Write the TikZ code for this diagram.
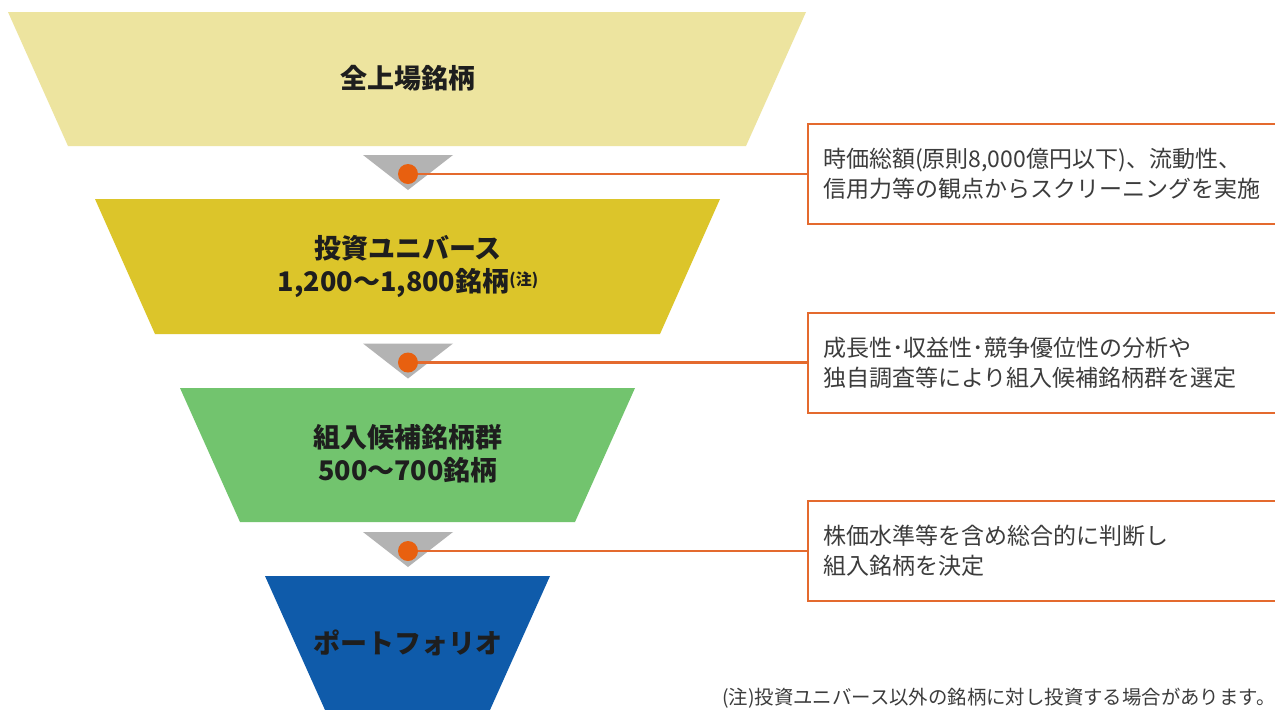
\documentclass[tikz,border=0pt]{standalone}
\usepackage{fontspec}
\usepackage{xcolor}
\setmainfont{Noto Sans CJK JP}
\usetikzlibrary{positioning}
\definecolor{TopYellow}{HTML}{EDE49F}
\definecolor{UnivYellow}{HTML}{DCC52A}
\definecolor{CandGreen}{HTML}{72C46E}
\definecolor{PortBlue}{HTML}{0F5BAA}
\definecolor{GateGray}{HTML}{B3B3B3}
\definecolor{DotOrange}{HTML}{E8600F}
\definecolor{LineOrange}{HTML}{E46A2E}
\definecolor{MemoText}{HTML}{3C3C3C}
\definecolor{FunnelText}{HTML}{1E1E1E}

\begin{document}
\begin{tikzpicture}[x=0.5pt, y=-0.5pt,
    stage/.style={font=\bfseries\fontsize{13.5}{16.5}\selectfont, text=FunnelText, align=center, inner sep=0pt},
    gate/.style={fill=GateGray, draw=none},
    dot/.style={circle, fill=DotOrange, minimum size=10pt, inner sep=0pt},
    memo/.style={rectangle, draw=LineOrange, line width=1pt, fill=white, anchor=west,
        minimum height=50pt, text width=231.5pt, inner xsep=7.5pt, align=left,
        text=MemoText, font=\fontsize{11.5}{15}\selectfont},
    link/.style={draw=LineOrange, line width=1.4pt}]

    \fill[white] (0,0) rectangle (1275,709);
    \clip (0,0) rectangle (1275,709);

    % funnel
    \fill[TopYellow] (8,12) -- (806,12) -- (746,146) -- (68,146) -- cycle;
    \fill[UnivYellow] (95,199) -- (720,199) -- (660,334) -- (155,334) -- cycle;
    \fill[CandGreen] (180,388) -- (635,388) -- (575,522) -- (240,522) -- cycle;
    \fill[PortBlue] (265,576) -- (550,576) -- (485.5,720) -- (329.5,720) -- cycle;

    \node[stage] (all) at (408,78) {全上場銘柄};
    \node[stage] (univ) at (408,266) {投資ユニバース\\1,200～1,800銘柄\raisebox{3pt}{\fontsize{8}{8}\selectfont (注)}};
    \node[stage] (cand) at (408,454) {組入候補銘柄群\\500～700銘柄};
    \node[stage] (port) at (408,643) {ポートフォリオ};

    % gates between the stages
    \fill[gate] (363,155) -- (453,155) -- (408,190) -- cycle;
    \fill[gate] (363,343.5) -- (453,343.5) -- (408,378.5) -- cycle;
    \fill[gate] (363,532) -- (453,532) -- (408,567) -- cycle;

    \node[memo] (screen) at (807,174) {時価総額(原則8,000億円以下)、流動性、\\信用力等の観点からスクリーニングを実施};
    \node[memo] (select) at (807,362.5) {成長性･収益性･競争優位性の分析や\\独自調査等により組入候補銘柄群を選定};
    \node[memo] (decide) at (807,551) {株価水準等を含め総合的に判断し\\組入銘柄を決定};

    \node[dot] (d1) at (408,174) {};
    \node[dot] (d2) at (408,362.5) {};
    \node[dot] (d3) at (408,551) {};

    \path[link]
    (d1) -- (screen.west)
    (d2) -- (select.west)
    (d3) -- (decide.west);

    \node[anchor=east, text=MemoText, font=\fontsize{9.7}{11}\selectfont, inner sep=0pt] (footnote) at (1276,698) {(注)投資ユニバース以外の銘柄に対し投資する場合があります。};

\end{tikzpicture}
\end{document}
